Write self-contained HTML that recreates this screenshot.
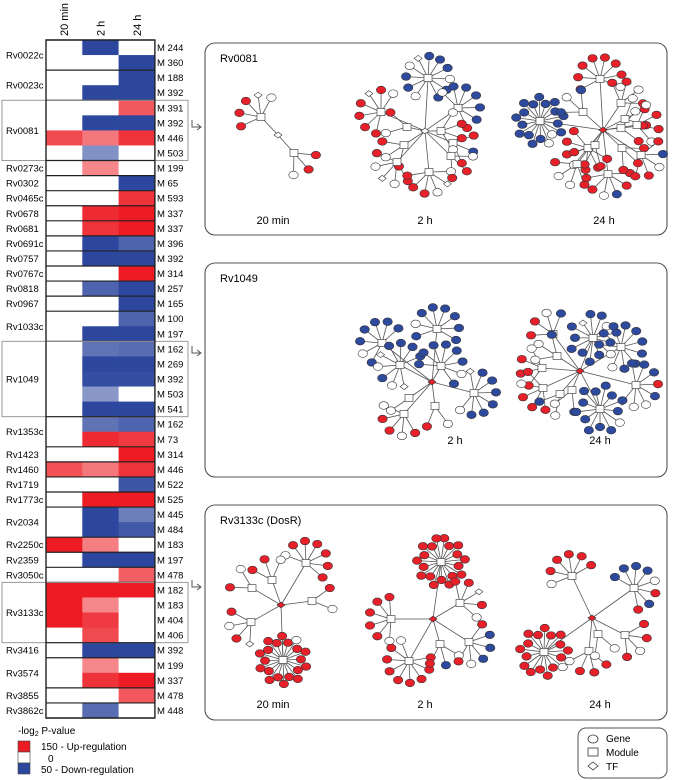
<!DOCTYPE html>
<html><head><meta charset="utf-8">
<style>
html,body{margin:0;padding:0;background:#fff;}
svg{display:block;font-family:"Liberation Sans",Arial,sans-serif;}
</style></head>
<body>
<svg id="fig" width="675" height="780" viewBox="0 0 675 780">
  <g id="heat"></g>
  <g id="panels"></g>
  <g>
    <text x="18" y="734" font-size="10">-log<tspan font-size="7" dy="2">2</tspan><tspan dy="-2"> P-value</tspan></text>
    <rect x="18" y="741" width="12" height="11" fill="#ed1c24" stroke="#444" stroke-width="0.6"/>
    <rect x="18" y="752" width="12" height="11" fill="#fff" stroke="#444" stroke-width="0.6"/>
    <rect x="18" y="763" width="12" height="11" fill="#2d479e" stroke="#444" stroke-width="0.6"/>
    <text x="41" y="750" font-size="10">150 - Up-regulation</text>
    <text x="48" y="762" font-size="10">0</text>
    <text x="41" y="773" font-size="10">50 - Down-regulation</text>
  </g>
  <g>
    <rect x="578" y="728" width="89" height="50" rx="8" fill="#fff" stroke="#555" stroke-width="1"/>
    <ellipse cx="593" cy="739" rx="5" ry="4" fill="#fff" stroke="#333" stroke-width="0.8"/>
    <text x="606" y="742" font-size="10">Gene</text>
    <rect x="588" y="748" width="10" height="8" fill="#fff" stroke="#333" stroke-width="0.8"/>
    <text x="606" y="756" font-size="10">Module</text>
    <polygon points="588,766 593,762 598,766 593,770" fill="#fff" stroke="#333" stroke-width="0.8"/>
    <text x="606" y="770" font-size="10">TF</text>
  </g>
</svg>
<script>
const NS="http://www.w3.org/2000/svg";
const genes=[["Rv0022c",2],["Rv0023c",2],["Rv0081",4],["Rv0273c",1],["Rv0302",1],["Rv0465c",1],["Rv0678",1],["Rv0681",1],["Rv0691c",1],["Rv0757",1],["Rv0767c",1],["Rv0818",1],["Rv0967",1],["Rv1033c",2],["Rv1049",5],["Rv1353c",2],["Rv1423",1],["Rv1460",1],["Rv1719",1],["Rv1773c",1],["Rv2034",2],["Rv2250c",1],["Rv2359",1],["Rv3050c",1],["Rv3133c",4],["Rv3416",1],["Rv3574",2],["Rv3855",1],["Rv3862c",1]];
const modules=["M 244","M 360","M 188","M 392","M 391","M 392","M 446","M 503","M 199","M 65","M 593","M 337","M 337","M 396","M 392","M 314","M 257","M 165","M 100","M 197","M 162","M 269","M 392","M 503","M 541","M 162","M 73","M 314","M 446","M 522","M 525","M 445","M 484","M 183","M 197","M 478","M 182","M 183","M 404","M 406","M 392","M 199","M 337","M 478","M 448"];
const timepoints=["20 min","2 h","24 h"];
const vals20=[0,0,0,0,0,0,120,0,0,0,0,0,0,0,0,0,0,0,0,0,0,0,0,0,0,0,0,0,115,0,0,0,0,150,0,0,150,150,150,0,0,0,0,0,0];
const vals2h=[-50,0,0,-50,0,-50,90,-30,80,0,0,140,135,-50,-50,0,-42,0,0,-50,-38,-50,-48,-28,-50,-38,140,0,90,0,150,-50,-50,85,-50,0,150,80,130,120,-50,80,135,0,-40];
const vals24=[0,-50,-50,-50,110,-50,135,0,0,-50,135,150,150,-42,-50,150,-50,-50,-42,-50,-40,-50,-48,0,-50,-42,130,150,135,-46,150,-35,-45,0,-50,105,150,0,0,0,-50,0,150,110,0];
const boxed=["Rv0081","Rv1049","Rv3133c"];
function mk(tag,attrs,parent){const e=document.createElementNS(NS,tag);for(const k in attrs)e.setAttribute(k,attrs[k]);parent.appendChild(e);return e;}
function color(v){
  if(v>0){const t=Math.min(v/150,1);return `rgb(${Math.round(255+(237-255)*t)},${Math.round(255+(28-255)*t)},${Math.round(255+(36-255)*t)})`;}
  if(v<0){const t=Math.min(-v/50,1);return `rgb(${Math.round(255+(45-255)*t)},${Math.round(255+(71-255)*t)},${Math.round(255+(158-255)*t)})`;}
  return "#fff";
}
const hx=46,cw=36.3,hy=40,rh=(718-40)/modules.length;
const xCol=i=>hx+i*cw, yRow=i=>hy+i*rh;
const heat=document.getElementById('heat');
timepoints.forEach((t,i)=>{
  const tx=mk('text',{x:0,y:0,'font-size':11,transform:`translate(${xCol(i)+cw/2+4},36) rotate(-90)`},heat);
  tx.textContent=t;
  
  
});
const series=[vals20,vals2h,vals24];
modules.forEach((m,r)=>{
  series.forEach((s,c)=>{
    const cell=mk('rect',{x:xCol(c),y:yRow(r),width:cw+0.4,height:rh+0.4,fill:color(s[r])},heat);
    
    
  });
  const ml=mk('text',{x:157,y:yRow(r)+rh/2+3.5,'font-size':9.5},heat);
  ml.textContent=m;
  
  
});
let acc=0;
genes.forEach(([g,n])=>{
  const y0=yRow(acc),y1=yRow(acc+n);
  const gl=mk('text',{x:6,y:(y0+y1)/2+3.5,'font-size':9.5},heat);
  gl.textContent=g;
  
  
  mk('line',{x1:hx,x2:hx+3*cw,y1:y0,y2:y0,stroke:'#222','stroke-width':1.2},heat);
  if(boxed.includes(g)) mk('rect',{x:2,y:y0,width:186,height:y1-y0,fill:'none',stroke:'#999','stroke-width':1},heat);
  acc+=n;
});
mk('line',{x1:hx,x2:hx+3*cw,y1:yRow(acc),y2:yRow(acc),stroke:'#222','stroke-width':1.2},heat);
mk('rect',{x:hx,y:hy,width:3*cw,height:yRow(acc)-hy,fill:'none',stroke:'#222','stroke-width':1.4},heat);

const panels=[
 {y:43,h:192,title:"Rv0081",arrow:127,labels:[["20 min",273,224],["2 h",425,224],["24 h",604,224]],
  nets:[{tf:[278,135,'w'],hubs:[[261,117,"rrrdw"],[294,153,"rrw"]]},
        {tf:[425,131,'w'],hubs:[[428,78,"wbbwdbbbwbb"],[381,112,"rrrrdrw"],[458,108,"wbbbbbr"],[407,127,"wr"],[404,145,"rwr"],[397,162,"rwdwr"],[429,172,"wdwrrr"],[453,143,"rbr"],[441,131,"wrrw"],[451,156,"wrr"]]},
        {tf:[603,130,'r'],hubs:[[540,121,"bbbbbbbbbbbwwbbbbb"],[600,79,"rrrrrrrw"],[583,112,"bwb"],[621,103,"rrwr"],[625,119,"wrr"],[621,128,"wrr"],[637,125,"wrrw"],[588,148,"rrrwrrr"],[595,145,"rrr"],[577,164,"rwwr"],[608,174,"rrbwrr"],[622,148,"rrr"],[641,155,"rbwrr"]]}]},
 {y:263,h:214,title:"Rv1049",arrow:353,labels:[["2 h",455,444],["24 h",600,444]],
  nets:[{tf:[432,382,'r'],hubs:[[382,343,"bwbbbbb"],[437,329,"bwbbbbbb"],[400,365,"dwbwdbbbb"],[441,366,"bbbbbbwb"],[474,393,"dbbbbbbw"],[409,398,"w"],[404,414,"rwrrw"],[435,406,"wr"]]},
        {tf:[580,371,'r'],hubs:[[553,334,"rrwb"],[593,338,"bwbbwbbbbbbdb"],[621,347,"bbbbbbbbbw"],[557,356,"wwb"],[542,368,"rrrw"],[543,388,"rrrwr"],[560,394,"wb"],[572,390,"bw"],[636,385,"bbbrbwwd"],[600,409,"bbbbbbbbbbbbw"]]}]},
 {y:505,h:215,title:"Rv3133c (DosR)",arrow:587,labels:[["20 min",273,708],["2 h",425,708],["24 h",600,708]],
  nets:[{tf:[281,605,'r'],hubs:[[306,563,"wrrrrrr"],[272,580,"rrw"],[252,588,"rw"],[312,601,"rw"],[251,622,"drwr"],[283,660,"rrrrrrrrrrrrwrrrrrrr"]]},
        {tf:[433,619,'r'],hubs:[[441,562,"rrrrrrrrrrrrrrrrrrr"],[460,603,"rrdrw"],[391,619,"wrrrrr"],[409,661,"rrrrrrrrw"],[440,644,"wbr"],[469,642,"rbbbwr"]]},
        {tf:[592,618,'r'],hubs:[[572,576,"wrrrrr"],[634,588,"bbbbwrbr"],[544,652,"rrrrrrrrrrrrwrrrr"],[589,651,"rrrw"],[598,634,"ww"],[625,635,"rrwr"]]}]}
];
const FILL={r:'#e8202a',b:'#2e4a9e',w:'#fff',d:'#fff'};
const P=document.getElementById('panels');
panels.forEach((p,pi)=>{
  const g=mk('g',{},P);
  
  
  mk('rect',{x:205,y:p.y,width:462,height:p.h,rx:10,fill:'#fff',stroke:'#555','stroke-width':1.1},g);
  const t=mk('text',{x:220,y:p.y+19,'font-size':11},g);t.textContent=p.title;
  
  
  mk('path',{d:`M192 ${p.arrow-7} V${p.arrow} H200`,fill:'none',stroke:'#555','stroke-width':1},g);
  mk('path',{d:`M197 ${p.arrow-3} L201 ${p.arrow} L197 ${p.arrow+3}`,fill:'none',stroke:'#555','stroke-width':1},g);
  p.labels.forEach(([s,x,y])=>{const l=mk('text',{x:x,y:y,'font-size':11,'text-anchor':'middle'},g);l.textContent=s;
    
    });
  p.nets.forEach(n=>{
    const edges=mk('g',{stroke:'#555','stroke-width':0.8},g), nodes=mk('g',{stroke:'#333','stroke-width':0.6},g);
    const [tx,ty,tc]=n.tf;
    n.hubs.forEach(([hx2,hy2,leaves])=>{
      mk('line',{x1:tx,y1:ty,x2:hx2,y2:hy2},edges);
      const k=leaves.length, full=k>=12;
      let dir=Math.atan2(hy2-ty,hx2-tx); const R=full?24:22;
      const span=full?2*Math.PI:Math.min(5.2,k*0.5);
      for(let i=0;i<k;i++){
        const a=full? dir+i*span/k : dir-span/2+(k===1?span/2:i*span/(k-1));
        const lx=hx2+R*Math.cos(a)*(full&&i%2?0.75:1), ly=hy2+R*Math.sin(a)*(full&&i%2?0.75:1);
        mk('line',{x1:hx2,y1:hy2,x2:lx,y2:ly},edges);
        const c=leaves[i];
        if(c==='d') mk('polygon',{points:`${lx-4},${ly} ${lx},${ly-3} ${lx+4},${ly} ${lx},${ly+3}`,fill:'#fff'},nodes);
        else mk('ellipse',{cx:lx,cy:ly,rx:4.7,ry:3.8,fill:FILL[c]},nodes);
      }
      mk('rect',{x:hx2-4,y:hy2-3.5,width:8,height:7,fill:'#fff'},nodes);
    });
    mk('polygon',{points:`${tx-4},${ty} ${tx},${ty-3} ${tx+4},${ty} ${tx},${ty+3}`,fill:FILL[tc]},nodes);
  });
});
</script>
</body></html>
